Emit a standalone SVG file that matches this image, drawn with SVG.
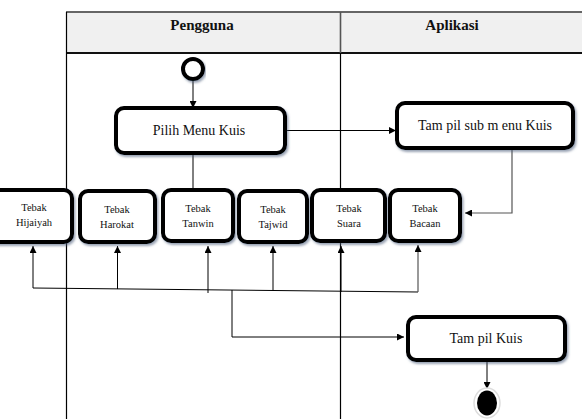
<svg xmlns="http://www.w3.org/2000/svg" width="582" height="419" viewBox="0 0 582 419">
  <defs>
    <filter id="shadow" x="-10%" y="-20%" width="125%" height="150%">
      <feDropShadow dx="1.5" dy="2" stdDeviation="1.2" flood-color="#4a5a78" flood-opacity="0.55"/>
    </filter>
    <marker id="arrow" viewBox="0 0 10 10" refX="10" refY="5" markerWidth="7" markerHeight="7" markerUnits="userSpaceOnUse" orient="auto">
      <path d="M0,0 L10,5 L0,10 z" fill="#000"/>
    </marker>
  </defs>
  <style>
    .lane { stroke: #000; stroke-width: 1.2; fill: none; }
    .head { fill: #f0f0f0; }
    text { font-family: 'Liberation Serif', 'Times New Roman', serif; fill: #111; text-anchor: middle; }
    .title { font-weight: bold; font-size: 15px; }
    .box { fill: #fff; stroke: #000; stroke-width: 4; filter: url(#shadow); }
    .lbl { font-size: 14px; }
    .sm { font-size: 10.5px; }
    .wire { stroke: #000; stroke-width: 1; fill: none; }
    .wire-g { stroke: #555; stroke-width: 1.2; fill: none; }
  </style>

  <rect width="582" height="419" fill="#fff"/>

  <!-- swimlanes -->
  <g id="swimlanes">
    <rect class="head" x="66" y="12" width="516" height="41"/>
    <line x1="66" y1="12" x2="582" y2="12" stroke="#666" stroke-width="2"/>
    <line x1="66" y1="53" x2="582" y2="53" stroke="#111" stroke-width="2"/>
    <line class="lane" x1="66.5" y1="12" x2="66.5" y2="419"/>
    <line x1="340.5" y1="12" x2="340.5" y2="53" stroke="#555" stroke-width="1.6"/>
    <line class="lane" x1="340.5" y1="53" x2="340.5" y2="419"/>
    <text class="title" x="202" y="30">Pengguna</text>
    <text class="title" x="452" y="30">Aplikasi</text>
  </g>

  <!-- connectors -->
  <g id="connectors">
    <line class="wire" x1="193" y1="81" x2="193" y2="108" marker-end="url(#arrow)"/>
    <line class="wire" x1="193" y1="154" x2="193" y2="190"/>
    <line class="wire" x1="285" y1="130.5" x2="396" y2="130.5" marker-end="url(#arrow)"/>
    <polyline class="wire-g" points="512,149 512,213 465,213" marker-end="url(#arrow)"/>
    <!-- bus under the Tebak boxes -->
    <line class="wire" x1="33" y1="288" x2="418" y2="292"/>
    <line class="wire" x1="33" y1="288" x2="33" y2="246" marker-end="url(#arrow)"/>
    <line class="wire" x1="117.5" y1="289" x2="117.5" y2="246" marker-end="url(#arrow)"/>
    <line class="wire" x1="208" y1="293" x2="208" y2="246" marker-end="url(#arrow)"/>
    <line class="wire" x1="273" y1="291" x2="273" y2="246" marker-end="url(#arrow)"/>
    <line class="wire" x1="341" y1="292" x2="341" y2="246" marker-end="url(#arrow)"/>
    <line class="wire-g" x1="418" y1="292" x2="418" y2="245" marker-end="url(#arrow)"/>
    <polyline class="wire" points="232,290 232,337 404,337" marker-end="url(#arrow)"/>
    <line class="wire" x1="487" y1="361" x2="487" y2="389" marker-end="url(#arrow)"/>
  </g>

  <!-- start node -->
  <g id="start">
    <circle cx="193" cy="69" r="10" fill="#fff" stroke="#000" stroke-width="4" filter="url(#shadow)"/>
  </g>

  <g id="pilih-menu-kuis">
    <rect class="box" x="116" y="108" width="169" height="45" rx="8"/>
    <text class="lbl" x="199" y="135">Pilih Menu Kuis</text>
  </g>

  <g id="tampil-sub-menu-kuis">
    <rect class="box" x="397" y="103" width="176" height="45" rx="8"/>
    <text class="lbl" x="485" y="130">Tam pil sub m enu Kuis</text>
  </g>

  <g id="tebak-hijaiyah">
    <rect class="box" x="-14" y="190" width="86" height="52" rx="8"/>
    <text class="sm" x="34" y="211">Tebak</text>
    <text class="sm" x="34" y="226">Hijaiyah</text>
  </g>

  <g id="tebak-harokat">
    <rect class="box" x="80" y="191" width="75" height="51" rx="8"/>
    <text class="sm" x="117" y="213">Tebak</text>
    <text class="sm" x="117" y="228">Harokat</text>
  </g>

  <g id="tebak-tanwin">
    <rect class="box" x="163" y="190" width="70" height="51" rx="8"/>
    <text class="sm" x="198" y="212">Tebak</text>
    <text class="sm" x="198" y="227">Tanwin</text>
  </g>

  <g id="tebak-tajwid">
    <rect class="box" x="239" y="191" width="68" height="51" rx="8"/>
    <text class="sm" x="273" y="213">Tebak</text>
    <text class="sm" x="273" y="228">Tajwid</text>
  </g>

  <g id="tebak-suara">
    <rect class="box" x="312" y="190" width="73" height="51" rx="8"/>
    <text class="sm" x="349" y="212">Tebak</text>
    <text class="sm" x="349" y="227">Suara</text>
  </g>

  <g id="tebak-bacaan">
    <rect class="box" x="390" y="190" width="70" height="51" rx="8"/>
    <text class="sm" x="425" y="212">Tebak</text>
    <text class="sm" x="425" y="227">Bacaan</text>
  </g>

  <g id="tampil-kuis">
    <rect class="box" x="408" y="317" width="157" height="43" rx="8"/>
    <text class="lbl" x="486" y="343">Tam pil Kuis</text>
  </g>

  <!-- end node -->
  <g id="end">
    <ellipse cx="487" cy="403" rx="13" ry="15" fill="#fff" stroke="#ddd" stroke-width="1.5"/>
    <ellipse cx="487" cy="403" rx="10" ry="12.5" fill="#000"/>
  </g>
</svg>
